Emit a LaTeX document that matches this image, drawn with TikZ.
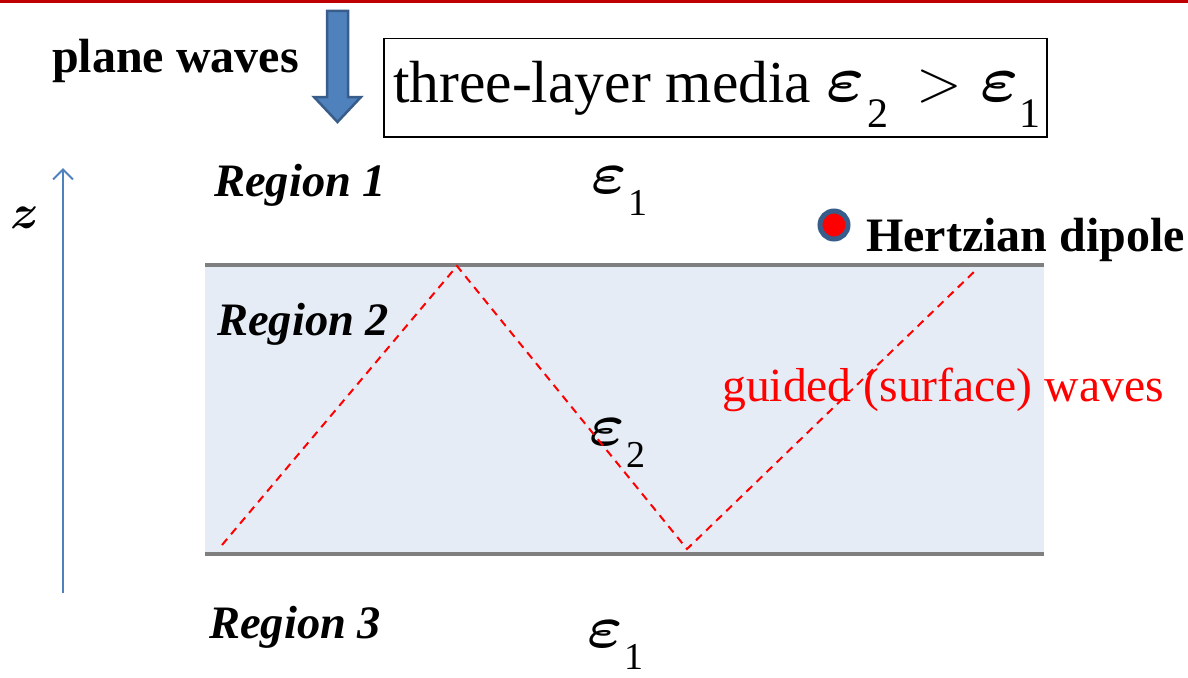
\RequirePackage{fix-cm}
\documentclass[tikz,border=0pt]{standalone}
\usepackage{graphicx}
\usepackage{fontspec}
\setmainfont{Liberation Serif}
\usetikzlibrary{arrows.meta}
\definecolor{topred}{HTML}{C00000}
\definecolor{arrowblue}{HTML}{4F81BD}
\definecolor{arrowedge}{HTML}{385D8A}
\definecolor{layerfill}{HTML}{E6ECF6}
\definecolor{layeredge}{HTML}{7F7F7F}
\definecolor{wavered}{HTML}{FF0000}
% #1 eps size, #2 xscale, #3 sub size, #4 drop, #5 gap, #6 digit
\newcommand\myeps[6]{{\fontsize{#1}{#1}\selectfont\boldmath\scalebox{#2}[1]{$\varepsilon$}}\kern#5\raisebox{-#4}{\fontsize{#3}{#3}\selectfont #6}}
\tikzset{
  boldlbl/.style={font=\fontsize{48}{50}\selectfont\bfseries, inner sep=0pt, anchor=base west},
  reglbl/.style={font=\fontsize{46.5}{50}\selectfont\bfseries\itshape, inner sep=0pt, anchor=base west},
  epslbl/.style={inner sep=0pt, anchor=base west},
  wave/.style={draw=wavered, line width=2pt, dash pattern=on 8pt off 6pt},
  bound/.style={draw=layeredge, line width=4pt},
}
\begin{document}
\begin{tikzpicture}[x=1pt,y=-1pt]
\useasboundingbox (0,0) rectangle (1188,677);
% top red rule
\draw[topred, line width=3pt] (0,2) -- (1188,2);
% plane waves
\node[boldlbl] (pw) at (52,73) {plane waves};
\draw[fill=arrowblue, draw=arrowedge, line width=2.5pt, line join=miter]
  (327,11) -- (348,11) -- (348,97) -- (361,97) -- (337.5,122) -- (314,97) -- (327,97) -- cycle;
% title box
\node[draw=black, line width=1.5pt, minimum width=663pt, minimum height=98pt, anchor=north west, inner sep=0pt] (box) at (383,38) {};
\node[font=\fontsize{59.5}{62}\selectfont, inner sep=0pt, anchor=base west] (title) at (393,102) {three-layer media};
\node[epslbl] (te2) at (826,101) {\myeps{66}{1.1}{42}{26pt}{3pt}{2}};
\node[epslbl, font=\fontsize{60}{62}\selectfont] (tgt) at (916,101) {$>$};
\node[epslbl] (te1) at (980,101) {\myeps{66}{1.1}{42}{26pt}{1pt}{1}};
% layer
\fill[layerfill] (205,265) rectangle (1044,554);
\draw[bound] (205,265) -- (1044,265);
\draw[bound] (205,554) -- (1044,554);
% z axis
\coordinate (z0) at (63,593);
\coordinate (z1) at (63,168);
\draw[arrowblue, line width=2pt, -{Straight Barb[length=10pt,width=20pt]}] (z0) -- (z1);
\node[font=\fontsize{48}{50}\selectfont\boldmath, inner sep=0pt] (z) at (25,218) {$z$};
% region labels
\node[reglbl] (r1) at (214,196) {Region 1};
\node[reglbl] (r2) at (217,335) {Region 2};
\node[reglbl] (r3) at (209,638) {Region 3};
% epsilons
\node[epslbl] (e1) at (591,193) {\myeps{60}{1.12}{38}{22pt}{2pt}{1}};
\node[epslbl] (e2) at (589,445) {\myeps{60}{1.12}{38}{22pt}{2pt}{2}};
\node[epslbl] (e3) at (587,647) {\myeps{60}{1.12}{38}{22pt}{2pt}{1}};
% guided waves
\coordinate (w0) at (222,545);
\coordinate (w1) at (457,266);
\coordinate (w2) at (687,549);
\coordinate (w3) at (978,268);
\draw[wave] (w0) -- (w1) -- (w2) -- (w3);
\node[font=\fontsize{47.6}{50}\selectfont, text=wavered, inner sep=0pt, anchor=base west] (gw) at (722,401) {guided (surface) waves};
% dipole
\node[circle, fill=red, draw=arrowedge, line width=5pt, minimum size=28pt, inner sep=0pt] (dip) at (834,225) {};
\node[boldlbl] (hd) at (866,251) {Hertzian dipole};
\end{tikzpicture}
\end{document}
